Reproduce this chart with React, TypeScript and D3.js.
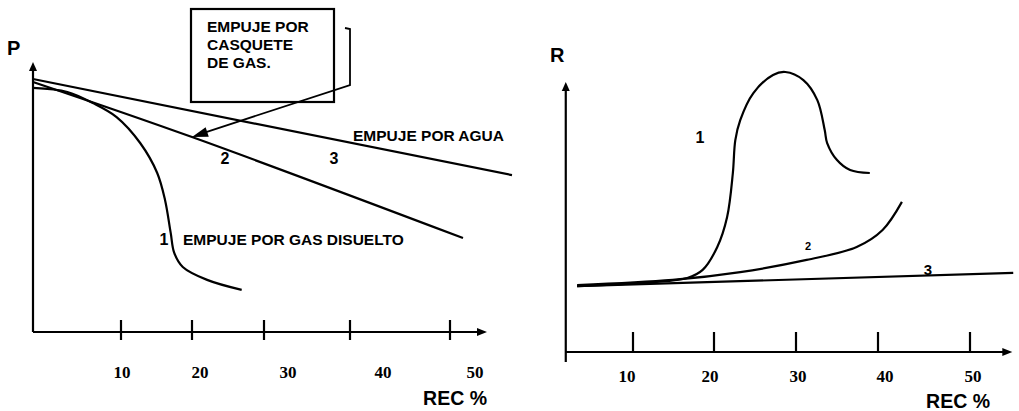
import React from 'react'
import * as d3 from 'd3'

// REC % tick values shared by both charts
const recTicks = [10, 20, 30, 40, 50]

// P vs REC % (left chart)
const pGasDisuelto: [number, number][] = [
  [0, 90.4], [3.9, 88.9], [6.8, 84.8], [9.5, 79.6], [12.7, 70.0], [15.1, 58.9],
  [16.2, 48.9], [17.0, 36.7], [17.5, 29.3], [18.7, 24.1], [22.1, 19.3], [26.9, 15.6]
]
const pCasquete: [number, number][] = [[0, 92.6], [20, 72.2], [51.3, 34.8]]
const pAgua: [number, number][] = [[0, 93.7], [56.2, 58.1]]

// R vs REC % (right chart)
const rGasDisuelto: [number, number][] = [
  [3.1, 24.4], [12, 25.8], [16.7, 27.4], [18.6, 30.4], [20.4, 38.9], [21.6, 50.0],
  [22.3, 66.3], [22.6, 78.5], [23.2, 85.9], [24.8, 95.9], [27.2, 102.6], [28.7, 103.7],
  [30.9, 100.7], [32.6, 93.3], [33.5, 82.2], [33.8, 77.4], [35.0, 71.1], [36.6, 67.4], [39.0, 66.3]
]
const rCasquete: [number, number][] = [
  [3.1, 24.8], [14.9, 26.7], [23.2, 29.6], [31.3, 34.1], [37.4, 38.9], [40.5, 45.2], [42.6, 55.6]
]
const rAgua: [number, number][] = [[3.1, 24.4], [54.7, 29.3]]

const sans = '"Liberation Sans", Arial, sans-serif'
const serif = '"Liberation Serif", "Times New Roman", serif'

// hand drawn axes: ticks are not evenly spaced
const xP = d3.scaleLinear().domain([0, 10, 20, 30, 40, 50]).range([33, 121, 192, 264, 350, 450])
const xPLabel = d3.scaleLinear().domain([10, 20, 30, 40, 50]).range([122, 200, 288, 383, 475])
const yP = d3.scaleLinear().domain([0, 100]).range([332, 62])

const xR = d3.scaleLinear().domain([10, 20, 30, 40, 50]).range([633, 714, 796, 878, 970])
const xRLabel = d3.scaleLinear().domain([10, 20, 30, 40, 50]).range([627, 710, 798, 885, 973])
const yR = d3.scaleLinear().domain([0, 100]).range([352, 82])

function makeLine(x: any, y: any) {
  return d3.line<[number, number]>()
    .x((d) => x(d[0]))
    .y((d) => y(d[1]))
    .curve(d3.curveCatmullRom.alpha(0.5))
}

function arrowHead(x1: number, y1: number, x2: number, y2: number, len = 9, half = 4) {
  const a = Math.atan2(y2 - y1, x2 - x1)
  const bx = x2 - len * Math.cos(a)
  const by = y2 - len * Math.sin(a)
  const px = -Math.sin(a) * half
  const py = Math.cos(a) * half
  return `M${x2},${y2}L${bx + px},${by + py}L${bx - px},${by - py}Z`
}

export default function App() {
  const lineP = makeLine(xP, yP)
  const lineR = makeLine(xR, yR)

  const pX0 = xP(0), pXEnd = xP(53.7), pY0 = yP(0), pYTop = yP(100)
  const rX0 = xR(1.7), rXEnd = xR(54.6), rY0 = yR(0), rYTop = yR(100)

  // arrow from the box bracket to the gas cap line
  const tipX = xP(20), tipY = yP(72.2)

  const label = { fontFamily: sans, fontWeight: 700, fontSize: 15.5 }
  const tickFont = { fontFamily: serif, fontWeight: 700, fontSize: 17 }

  return (
    <svg width={1019} height={411} style={{ position: 'absolute', left: 0, top: 0, background: '#fff' }}>
      {/* ---------- left chart: P ---------- */}
      <g stroke="#000" strokeWidth={2.2} fill="none">
        <line x1={pX0} y1={pY0} x2={pX0} y2={pYTop + 4} />
        <line x1={pX0} y1={pY0} x2={pXEnd - 4} y2={pY0} />
        {recTicks.map((t) => (
          <line key={t} x1={xP(t)} x2={xP(t)} y1={pY0 - 12} y2={pY0 + 8} />
        ))}
        <path d={lineP(pAgua) || ''} />
        <path d={lineP(pCasquete) || ''} />
        <path d={lineP(pGasDisuelto) || ''} />
        <rect x={191} y={9} width={143} height={93} />
        <path d={`M345,28L350,29L350,85L${tipX + 8},${tipY - 3}`} strokeWidth={1.8} />
      </g>
      <path d={arrowHead(pX0, pY0, pX0, pYTop, 9, 4)} fill="#000" />
      <path d={arrowHead(pX0, pY0, pXEnd, pY0, 10, 4)} fill="#000" />
      <path d={arrowHead(350, 85, tipX, tipY, 16, 5)} fill="#000" />

      <text x={7} y={55} style={{ fontFamily: sans, fontWeight: 700, fontSize: 20 }}>P</text>
      {recTicks.map((t) => (
        <text key={t} x={xPLabel(t)} y={378} textAnchor="middle" style={tickFont}>{t}</text>
      ))}
      <text x={487} y={405} textAnchor="end" style={{ fontFamily: sans, fontWeight: 700, fontSize: 19.5 }}>REC %</text>

      <g style={label}>
        <text x={207} y={32}>EMPUJE POR</text>
        <text x={207} y={50}>CASQUETE</text>
        <text x={207} y={68}>DE GAS.</text>
        <text x={353} y={141}>EMPUJE POR AGUA</text>
        <text x={183} y={245}>EMPUJE POR GAS DISUELTO</text>
      </g>
      <g style={{ fontFamily: sans, fontWeight: 700, fontSize: 16 }} textAnchor="middle">
        <text x={225} y={164}>2</text>
        <text x={334} y={164}>3</text>
        <text x={164} y={245}>1</text>
      </g>

      {/* ---------- right chart: R ---------- */}
      <g stroke="#000" strokeWidth={2.2} fill="none">
        <line x1={rX0} y1={rY0 + 10} x2={rX0} y2={rYTop + 4} />
        <line x1={rX0} y1={rY0} x2={rXEnd - 4} y2={rY0} />
        {recTicks.map((t) => (
          <line key={t} x1={xR(t)} x2={xR(t)} y1={rY0 - 20} y2={rY0} />
        ))}
        <path d={lineR(rAgua) || ''} />
        <path d={lineR(rCasquete) || ''} />
        <path d={lineR(rGasDisuelto) || ''} />
      </g>
      <path d={arrowHead(rX0, rY0, rX0, rYTop, 9, 4)} fill="#000" />
      <path d={arrowHead(rX0, rY0, rXEnd, rY0, 10, 4)} fill="#000" />

      <text x={550} y={62} style={{ fontFamily: sans, fontWeight: 700, fontSize: 20 }}>R</text>
      {recTicks.map((t) => (
        <text key={t} x={xRLabel(t)} y={382} textAnchor="middle" style={tickFont}>{t}</text>
      ))}
      <text x={990} y={408} textAnchor="end" style={{ fontFamily: sans, fontWeight: 700, fontSize: 19.5 }}>REC %</text>
      <g style={{ fontFamily: sans, fontWeight: 700 }} textAnchor="middle">
        <text x={700} y={143} fontSize={16}>1</text>
        <text x={808} y={250} fontSize={11}>2</text>
        <text x={928} y={275} fontSize={15}>3</text>
      </g>
    </svg>
  )
}
